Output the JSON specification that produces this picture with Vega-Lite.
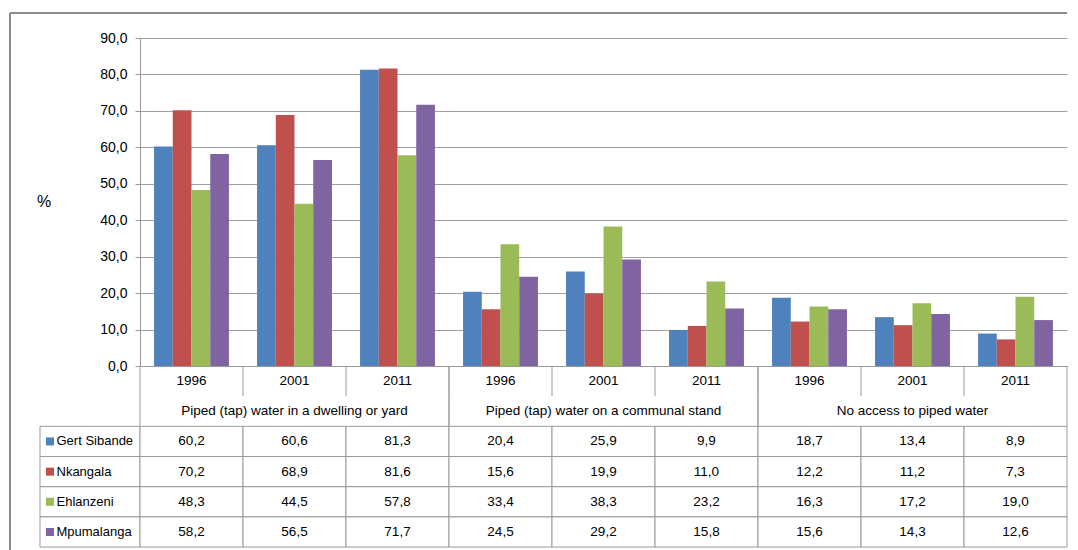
{
  "$schema": "https://vega.github.io/schema/vega-lite/v6.json",
  "background": "white",
  "padding": {"left": 9, "top": 11, "right": 4, "bottom": 0},
  "columns": 2,
  "spacing": 0,
  "bounds": "flush",
  "config": {
    "view": {"stroke": null},
    "font": "Liberation Sans",
    "locale": {"number": {"decimal": ",", "thousands": " ", "grouping": [3], "currency": ["", ""]}},
    "axisY": {
      "values": [0, 10, 20, 30, 40, 50, 60, 70, 80, 90],
      "format": ".1f",
      "labelOverlap": false,
      "grid": true, "gridColor": "#a0a0a0", "gridWidth": 1.2,
      "domainColor": "#9a9a9a", "tickColor": "#9a9a9a", "tickSize": 5,
      "labelPadding": 8, "labelFontSize": 14, "labelColor": "#000", "labelFont": "Liberation Sans"
    }
  },
  "datasets": {
    "water": [
      {"category": "Piped (tap) water in a dwelling or yard", "year": "1996", "series": "Gert Sibande", "value": 60.2},
      {"category": "Piped (tap) water in a dwelling or yard", "year": "1996", "series": "Nkangala", "value": 70.2},
      {"category": "Piped (tap) water in a dwelling or yard", "year": "1996", "series": "Ehlanzeni", "value": 48.3},
      {"category": "Piped (tap) water in a dwelling or yard", "year": "1996", "series": "Mpumalanga", "value": 58.2},
      {"category": "Piped (tap) water in a dwelling or yard", "year": "2001", "series": "Gert Sibande", "value": 60.6},
      {"category": "Piped (tap) water in a dwelling or yard", "year": "2001", "series": "Nkangala", "value": 68.9},
      {"category": "Piped (tap) water in a dwelling or yard", "year": "2001", "series": "Ehlanzeni", "value": 44.5},
      {"category": "Piped (tap) water in a dwelling or yard", "year": "2001", "series": "Mpumalanga", "value": 56.5},
      {"category": "Piped (tap) water in a dwelling or yard", "year": "2011", "series": "Gert Sibande", "value": 81.3},
      {"category": "Piped (tap) water in a dwelling or yard", "year": "2011", "series": "Nkangala", "value": 81.6},
      {"category": "Piped (tap) water in a dwelling or yard", "year": "2011", "series": "Ehlanzeni", "value": 57.8},
      {"category": "Piped (tap) water in a dwelling or yard", "year": "2011", "series": "Mpumalanga", "value": 71.7},
      {"category": "Piped (tap) water on a communal stand", "year": "1996", "series": "Gert Sibande", "value": 20.4},
      {"category": "Piped (tap) water on a communal stand", "year": "1996", "series": "Nkangala", "value": 15.6},
      {"category": "Piped (tap) water on a communal stand", "year": "1996", "series": "Ehlanzeni", "value": 33.4},
      {"category": "Piped (tap) water on a communal stand", "year": "1996", "series": "Mpumalanga", "value": 24.5},
      {"category": "Piped (tap) water on a communal stand", "year": "2001", "series": "Gert Sibande", "value": 25.9},
      {"category": "Piped (tap) water on a communal stand", "year": "2001", "series": "Nkangala", "value": 19.9},
      {"category": "Piped (tap) water on a communal stand", "year": "2001", "series": "Ehlanzeni", "value": 38.3},
      {"category": "Piped (tap) water on a communal stand", "year": "2001", "series": "Mpumalanga", "value": 29.2},
      {"category": "Piped (tap) water on a communal stand", "year": "2011", "series": "Gert Sibande", "value": 9.9},
      {"category": "Piped (tap) water on a communal stand", "year": "2011", "series": "Nkangala", "value": 11.0},
      {"category": "Piped (tap) water on a communal stand", "year": "2011", "series": "Ehlanzeni", "value": 23.2},
      {"category": "Piped (tap) water on a communal stand", "year": "2011", "series": "Mpumalanga", "value": 15.8},
      {"category": "No access to piped water", "year": "1996", "series": "Gert Sibande", "value": 18.7},
      {"category": "No access to piped water", "year": "1996", "series": "Nkangala", "value": 12.2},
      {"category": "No access to piped water", "year": "1996", "series": "Ehlanzeni", "value": 16.3},
      {"category": "No access to piped water", "year": "1996", "series": "Mpumalanga", "value": 15.6},
      {"category": "No access to piped water", "year": "2001", "series": "Gert Sibande", "value": 13.4},
      {"category": "No access to piped water", "year": "2001", "series": "Nkangala", "value": 11.2},
      {"category": "No access to piped water", "year": "2001", "series": "Ehlanzeni", "value": 17.2},
      {"category": "No access to piped water", "year": "2001", "series": "Mpumalanga", "value": 14.3},
      {"category": "No access to piped water", "year": "2011", "series": "Gert Sibande", "value": 8.9},
      {"category": "No access to piped water", "year": "2011", "series": "Nkangala", "value": 7.3},
      {"category": "No access to piped water", "year": "2011", "series": "Ehlanzeni", "value": 19.0},
      {"category": "No access to piped water", "year": "2011", "series": "Mpumalanga", "value": 12.6}
    ]
  },
  "concat": [
    {
      "width": 100,
      "height": 328,
      "data": {"values": [{"unit": "%"}]},
      "layer": [
        {
          "mark": {"type": "text", "align": "left", "baseline": "middle", "fontSize": 16, "color": "#000"},
          "encoding": {
            "x": {"datum": -0.03, "type": "quantitative", "scale": {"domain": [0, 1]}, "axis": null},
            "y": {"datum": 45, "type": "quantitative", "scale": {"domain": [0, 90]}, "axis": null},
            "text": {"field": "unit"}
          }
        },
        {
          "mark": {"type": "rule", "color": "#8c8c8c", "strokeWidth": 2},
          "encoding": {
            "x": {"datum": -0.3, "type": "quantitative", "axis": null},
            "y": {"datum": 96.86, "type": "quantitative", "axis": null},
            "y2": {"datum": 0}
          }
        },
        {
          "mark": {"type": "rule", "color": "#8c8c8c", "strokeWidth": 2},
          "encoding": {
            "y": {"datum": 96.86, "type": "quantitative", "axis": null},
            "x": {"datum": -0.3, "type": "quantitative", "axis": null},
            "x2": {"datum": 1}
          }
        }
      ]
    },
    {
      "width": 927,
      "height": 328,
      "data": {"name": "water"},
      "transform": [{"calculate": "datum.category + ' ' + datum.year", "as": "group"}],
      "layer": [
        {
          "mark": {"type": "bar"},
          "encoding": {
            "x": {
              "field": "group", "type": "nominal",
              "scale": {
                "domain": [
                  "Piped (tap) water in a dwelling or yard 1996", "Piped (tap) water in a dwelling or yard 2001", "Piped (tap) water in a dwelling or yard 2011",
                  "Piped (tap) water on a communal stand 1996", "Piped (tap) water on a communal stand 2001", "Piped (tap) water on a communal stand 2011",
                  "No access to piped water 1996", "No access to piped water 2001", "No access to piped water 2011"
                ],
                "paddingInner": 0, "paddingOuter": 0
              },
              "axis": {"labels": false, "ticks": false, "title": null, "domainColor": "#9a9a9a", "domainWidth": 1, "grid": false}
            },
            "xOffset": {
              "field": "series", "type": "nominal",
              "scale": {"domain": ["Gert Sibande", "Nkangala", "Ehlanzeni", "Mpumalanga"], "paddingInner": 0, "paddingOuter": 0.75}
            },
            "y": {
              "field": "value", "type": "quantitative",
              "scale": {"domain": [0, 90], "nice": false},
              "axis": {"title": null}
            },
            "color": {
              "field": "series", "type": "nominal",
              "scale": {"domain": ["Gert Sibande", "Nkangala", "Ehlanzeni", "Mpumalanga"], "range": ["#4F81BD", "#C0504D", "#9BBB59", "#8064A2"]},
              "legend": null
            }
          }
        },
        {
          "mark": {"type": "rule", "color": "#8c8c8c", "strokeWidth": 2},
          "encoding": {"y": {"datum": 96.86, "type": "quantitative", "axis": {"title": null}}}
        }
      ]
    },
    {
      "width": 100,
      "height": 185,
      "data": {"name": "water"},
      "transform": [{"filter": "datum.category == 'Piped (tap) water in a dwelling or yard' && datum.year == '1996'"}],
      "layer": [
        {
          "mark": {"type": "rect", "fill": "white", "stroke": "#9a9a9a", "strokeWidth": 1},
          "encoding": {
            "x": {"datum": 0, "type": "quantitative", "scale": {"domain": [0, 1]}, "axis": null},
            "x2": {"datum": 1},
            "y": {
              "field": "series", "type": "nominal",
              "scale": {"domain": ["Year", "Category", "Gert Sibande", "Nkangala", "Ehlanzeni", "Mpumalanga"], "paddingInner": 0, "paddingOuter": 0.065, "align": 0},
              "axis": null
            }
          }
        },
        {
          "mark": {"type": "point", "shape": "square", "filled": true, "size": 64, "opacity": 1},
          "encoding": {
            "x": {"datum": 0.1, "type": "quantitative"},
            "y": {"field": "series", "type": "nominal"},
            "color": {"field": "series", "type": "nominal", "scale": {"domain": ["Gert Sibande", "Nkangala", "Ehlanzeni", "Mpumalanga"], "range": ["#4F81BD", "#C0504D", "#9BBB59", "#8064A2"]}, "legend": null}
          }
        },
        {
          "mark": {"type": "text", "align": "left", "baseline": "middle", "fontSize": 13, "color": "#000"},
          "encoding": {
            "x": {"datum": 0.165, "type": "quantitative"},
            "y": {"field": "series", "type": "nominal"},
            "text": {"field": "series"}
          }
        },
        {
          "mark": {"type": "rule", "color": "#8c8c8c", "strokeWidth": 2},
          "encoding": {"x": {"datum": -0.3, "type": "quantitative"}}
        }
      ]
    },
    {
      "width": 927,
      "height": 185,
      "data": {"name": "water"},
      "transform": [{"calculate": "datum.category + ' ' + datum.year", "as": "group"}],
      "encoding": {
        "x": {
          "field": "group", "type": "nominal",
          "scale": {
            "domain": [
              "Piped (tap) water in a dwelling or yard 1996", "Piped (tap) water in a dwelling or yard 2001", "Piped (tap) water in a dwelling or yard 2011",
              "Piped (tap) water on a communal stand 1996", "Piped (tap) water on a communal stand 2001", "Piped (tap) water on a communal stand 2011",
              "No access to piped water 1996", "No access to piped water 2001", "No access to piped water 2011"
            ],
            "paddingInner": 0, "paddingOuter": 0
          },
          "axis": null
        }
      },
      "layer": [
        {
          "mark": {"type": "rect", "fill": "white", "stroke": "#9a9a9a", "strokeWidth": 1},
          "encoding": {
            "y": {
              "field": "series", "type": "nominal",
              "scale": {"domain": ["Year", "Category", "Gert Sibande", "Nkangala", "Ehlanzeni", "Mpumalanga"], "paddingInner": 0, "paddingOuter": 0.065, "align": 0},
              "axis": null
            }
          }
        },
        {
          "mark": {"type": "text", "baseline": "middle", "fontSize": 13.5, "color": "#000"},
          "encoding": {
            "y": {"field": "series", "type": "nominal"},
            "text": {"field": "value", "type": "quantitative", "format": ".1f"}
          }
        },
        {
          "transform": [{"filter": "datum.series == 'Gert Sibande'"}],
          "mark": {"type": "text", "baseline": "middle", "fontSize": 13.5, "color": "#000"},
          "encoding": {
            "y": {"datum": "Year", "type": "nominal"},
            "text": {"field": "year"}
          }
        },
        {
          "transform": [{"filter": "datum.series == 'Gert Sibande' && datum.year == '2001'"}],
          "mark": {"type": "text", "baseline": "middle", "fontSize": 13.5, "color": "#000"},
          "encoding": {
            "y": {"datum": "Category", "type": "nominal"},
            "text": {"field": "category"}
          }
        },
        {
          "transform": [{"filter": "datum.series == 'Gert Sibande'"}],
          "mark": {"type": "tick", "orient": "vertical", "color": "#9a9a9a", "thickness": 1, "size": 30, "opacity": 1},
          "encoding": {
            "x": {"field": "group", "type": "nominal", "bandPosition": 0},
            "y": {"datum": "Year", "type": "nominal"}
          }
        },
        {
          "transform": [{"filter": "datum.series == 'Gert Sibande' && datum.year == '1996'"}],
          "mark": {"type": "tick", "orient": "vertical", "color": "#9a9a9a", "thickness": 1, "size": 30, "opacity": 1},
          "encoding": {
            "x": {"field": "group", "type": "nominal", "bandPosition": 0},
            "y": {"datum": "Category", "type": "nominal"}
          }
        },
        {
          "transform": [{"filter": "datum.series == 'Gert Sibande' && datum.year == '2011'"}],
          "mark": {"type": "tick", "orient": "vertical", "color": "#9a9a9a", "thickness": 1, "size": 30, "opacity": 1},
          "encoding": {
            "x": {"field": "group", "type": "nominal", "bandPosition": 1},
            "y": {"datum": "Year", "type": "nominal"}
          }
        },
        {
          "transform": [{"filter": "datum.series == 'Gert Sibande' && datum.year == '2011'"}],
          "mark": {"type": "tick", "orient": "vertical", "color": "#9a9a9a", "thickness": 1, "size": 30, "opacity": 1},
          "encoding": {
            "x": {"field": "group", "type": "nominal", "bandPosition": 1},
            "y": {"datum": "Category", "type": "nominal"}
          }
        }
      ]
    }
  ]
}
